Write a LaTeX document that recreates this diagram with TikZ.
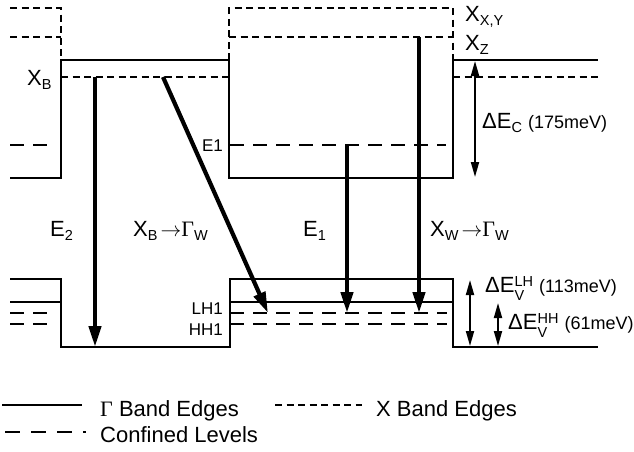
\documentclass[tikz,border=0pt]{standalone}
\usepackage{fontspec}
\setmainfont{Liberation Sans}
\newfontfamily\seriffont{Liberation Serif}
\usetikzlibrary{arrows.meta}
\newcommand\lo[1]{\raisebox{-0.22em}{\fontsize{14.5}{15}\selectfont #1}}
\newcommand\hilo[2]{\rlap{\raisebox{-0.4em}{\fontsize{14.5}{15}\selectfont #2}}\raisebox{0.25em}{\fontsize{14.5}{15}\selectfont #1}}
\newcommand\Gam{{\seriffont Γ}}
\newcommand\rar{$\rightarrow$}
\tikzset{
  gam/.style={line width=1.8pt},
  xband/.style={line width=1.6pt, dash pattern=on 7pt off 4.5pt},
  conf/.style={line width=1.8pt, dash pattern=on 14pt off 9pt},
  trans/.style={line width=4.2pt, -{Triangle[length=21pt,width=12pt]}},
  delta/.style={line width=1.8pt, {Triangle[length=15pt,width=8pt]}-{Triangle[length=15pt,width=8pt]}},
  lbl/.style={inner sep=0pt, anchor=base west, font=\fontsize{22}{26}\selectfont},
  small/.style={inner sep=0pt, anchor=base east, font=\fontsize{17}{20}\selectfont},
}
\newcommand\pmev[1]{{\fontsize{18}{20}\selectfont (#1meV)}}
\begin{document}
\begin{tikzpicture}[x=1pt,y=-1pt]
\useasboundingbox (0,0) rectangle (634,451);
% Gamma conduction band
\draw[gam] (10,178) -- (61,178) -- (61,60) -- (229,60) -- (229,178) -- (453,178) -- (453,60) -- (598,60);
% Gamma valence bands
\draw[gam] (10,279) -- (61,279) -- (61,347) -- (230,347) -- (230,279) -- (453,279) -- (453,347) -- (598,347);
\draw[gam] (10,302) -- (61,302);
\draw[gam] (230,302) -- (453,302);
% X band edges
\draw[xband] (10,8) -- (61,8) -- (61,60);
\draw[xband] (10,37) -- (61,37);
\draw[xband] (229,60) -- (229,8) -- (453,8) -- (453,60);
\draw[xband] (229,60) -- (229,37) -- (453,37);
\draw[xband] (61,77) -- (229,77);
\draw[xband] (453,77) -- (598,77);
% confined levels
\draw[conf] (10,145) -- (52,145);
\draw[conf] (230,145) -- (446,145);
\draw[conf] (10,313) -- (52,313);
\draw[conf] (10,324) -- (52,324);
\draw[conf] (230,313) -- (447,313);
\draw[conf] (230,324) -- (447,324);
% transition endpoints
\coordinate (e2s) at (95,77);   \coordinate (e2e) at (95,347);
\coordinate (xbs) at (163,77);  \coordinate (xbe) at (268,313);
\coordinate (e1s) at (347,145); \coordinate (e1e) at (347,313);
\coordinate (xws) at (419,37);  \coordinate (xwe) at (419,313);
\draw[trans] (e2s) -- (e2e);
\draw[trans] (xbs) -- (xbe);
\draw[trans] (e1s) -- (e1e);
\draw[trans] (xws) -- (xwe);
% offsets
\coordinate (dct) at (475,61);  \coordinate (dcb) at (475,177);
\coordinate (dlt) at (470,280); \coordinate (dlb) at (470,346);
\coordinate (dht) at (498,303); \coordinate (dhb) at (498,346);
\draw[delta] (dct) -- (dcb);
\draw[delta] (dlt) -- (dlb);
\draw[delta] (dht) -- (dhb);
% labels
\node[lbl] (lxb) at (27,85) {X\lo{B}};
\node[small] (le1) at (223,151) {E1};
\node[small] (llh) at (223,314) {LH1};
\node[small] (lhh) at (223,335) {HH1};
\node[lbl] (lxxy) at (465,21) {X\lo{X,Y}};
\node[lbl] (lxz) at (465,50) {X\lo{Z}};
\node[lbl] (ldc) at (482,128) {ΔE\lo{C} \pmev{175}};
\node[lbl] (ldl) at (485,292) {ΔE\hilo{LH}{V} \pmev{113}};
\node[lbl] (ldh) at (508,329) {ΔE\hilo{HH}{V} \pmev{61}};
\node[lbl] (lE2) at (50,236) {E\lo{2}};
\node[lbl] (lxbg) at (133,236) {X\lo{B}\kern3pt\rar\Gam\lo{W}};
\node[lbl] (lE1) at (303,236) {E\lo{1}};
\node[lbl] (lxwg) at (430,236) {X\lo{W}\kern3pt\rar\Gam\lo{W}};
% legend
\coordinate (l1a) at (2,405);  \coordinate (l1b) at (82,405);
\coordinate (l2a) at (275,405); \coordinate (l2b) at (362,405);
\coordinate (l3a) at (5,432);  \coordinate (l3b) at (86,432);
\draw[gam] (l1a) -- (l1b);
\draw[xband] (l2a) -- (l2b);
\draw[conf, dash pattern=on 15pt off 11pt] (l3a) -- (l3b);
\node[lbl] (t1) at (100,416) {\Gam\ Band Edges};
\node[lbl] (t2) at (376,416) {X Band Edges};
\node[lbl] (t3) at (100,442) {Confined Levels};
\end{tikzpicture}
\end{document}
